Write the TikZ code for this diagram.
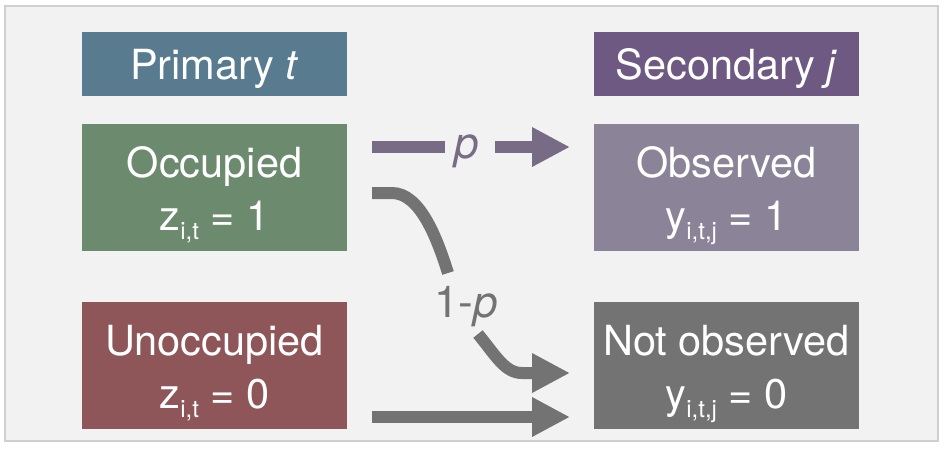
\documentclass[tikz,border=0pt]{standalone}
\usepackage{fontspec}
\setmainfont{TeX Gyre Heros}
\usetikzlibrary{arrows.meta}
\definecolor{panelbg}{HTML}{F2F2F2}
\definecolor{panelline}{HTML}{CFCFCF}
\definecolor{cprim}{HTML}{587B90}
\definecolor{csec}{HTML}{6E5982}
\definecolor{cocc}{HTML}{6B8A6E}
\definecolor{cobs}{HTML}{8B8397}
\definecolor{cunocc}{HTML}{8F5659}
\definecolor{cnobs}{HTML}{737373}
\definecolor{cparrow}{HTML}{776B86}
\definecolor{cgarrow}{HTML}{737373}
\newcommand{\subtxt}[1]{\raisebox{-9pt}{\fontsize{24}{24}\selectfont #1}}
\begin{document}
\begin{tikzpicture}[x=1pt,y=-1pt,
  boxstyle/.style={draw=none, inner sep=0pt, anchor=north west, minimum width=265pt},
  headbox/.style={boxstyle, minimum height=64pt},
  mainbox/.style={boxstyle, minimum height=127pt},
  txt/.style={text=white, anchor=base, inner sep=0pt, font=\fontsize{41.5}{48}\selectfont},
  bigarrow/.style={line width=12pt, -{Triangle[length=38pt,width=37pt]}},
  plainline/.style={line width=12pt},
  lbl/.style={anchor=base, inner sep=0pt, font=\fontsize{44}{50}\selectfont}
]
\useasboundingbox (0,0) rectangle (945,448);
\draw[fill=panelbg, draw=panelline, line width=1.5pt] (5,6) rectangle (938,441);

% header boxes
\node[headbox, fill=cprim] (prim) at (82,32) {};
\node[headbox, fill=csec] (sec) at (594,32) {};
\node[txt] (primt) at (214.5,79) {Primary \textit{t}};
\node[txt] (sect) at (726.5,79) {Secondary \textit{j}};

% main boxes
\node[mainbox, fill=cocc] (occ) at (82,124) {};
\node[mainbox, fill=cobs] (obs) at (594,124) {};
\node[mainbox, fill=cunocc] (unocc) at (82,302) {};
\node[mainbox, fill=cnobs] (nobs) at (594,302) {};

\node[txt] (occa) at (214.5,177) {Occupied};
\node[txt] (occb) at (214.5,230) {z\subtxt{i,t} = 1};
\node[txt] (obsa) at (726.5,177) {Observed};
\node[txt] (obsb) at (726.5,230) {y\subtxt{i,t,j} = 1};
\node[txt] (unocca) at (214.5,355) {Unoccupied};
\node[txt] (unoccb) at (214.5,408) {z\subtxt{i,t} = 0};
\node[txt] (nobsa) at (726.5,355) {Not observed};
\node[txt] (nobsb) at (726.5,408) {y\subtxt{i,t,j} = 0};

% labels
\node[lbl, text=cparrow] (plbl) at (467,158) {\textit{p}};
\node[lbl, text=cgarrow] (qlbl) at (466,317) {1-\textit{p}};

% connector coordinates
\coordinate (pa) at (372,147);
\coordinate (pb) at (445,147);
\coordinate (pc) at (495,147);
\coordinate (pd) at (570,147);
\coordinate (ca) at (372,193);
\coordinate (cb) at (392,193);
\coordinate (cc) at (448,273);
\coordinate (cd) at (478,334);
\coordinate (ce) at (522,373);
\coordinate (cf) at (570,373);
\coordinate (ba) at (372,417);
\coordinate (bb) at (570,417);

% p arrow
\draw[plainline, cparrow] (pa) -- (pb);
\draw[bigarrow, cparrow] (pc) -- (pd);
% 1-p arrow
\draw[plainline, cgarrow] (ca) -- (cb) .. controls (420,193) and (437,238) .. (cc);
\draw[bigarrow, cgarrow] (cd) .. controls (496,356) and (505,373) .. (ce) -- (cf);
% bottom arrow
\draw[bigarrow, cgarrow] (ba) -- (bb);
\end{tikzpicture}
\end{document}
